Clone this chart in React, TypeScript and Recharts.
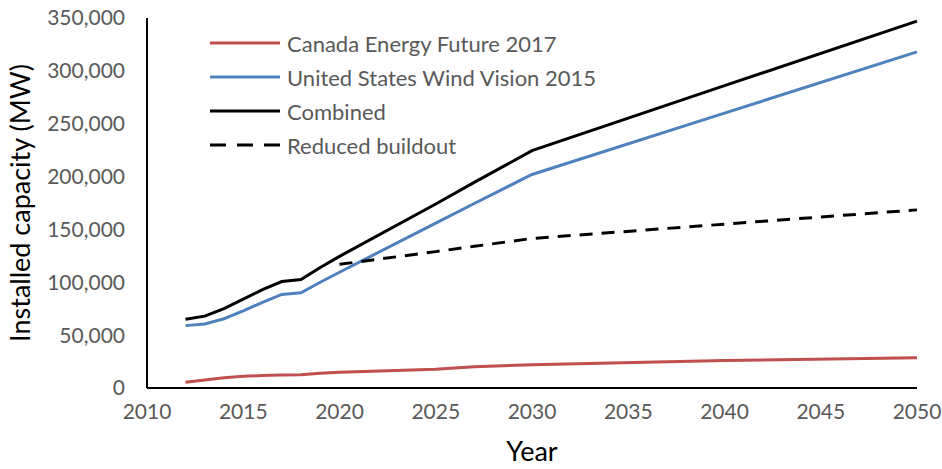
import { LineChart, Line, XAxis, YAxis, Legend } from "recharts";

// values (MW)
const years = [2012, 2013, 2014, 2015, 2016, 2017, 2018, 2019, 2020, 2025, 2027, 2030, 2040, 2050];
const canada = [5400, 7500, 9800, 11000, 11800, 12200, 12600, 14000, 15000, 17800, 20200, 22000, 26000, 28700];
const unitedStates = [59000, 60500, 65500, 73000, 81000, 88500, 90000, 100000, 109500, 156000, 174500, 202000, 260000, 318000];
const combined = [65000, 68000, 75000, 84000, 93000, 100700, 102600, 114000, 124500, 174000, 194500, 224500, 286000, 347000];
const reduced = [null, null, null, null, null, null, null, null, 117000, 129000, 134000, 141500, 155000, 168500];

const seriesNames = [
  "Canada Energy Future 2017",
  "United States Wind Vision 2015",
  "Combined",
  "Reduced buildout",
];

const xTicks = [2010, 2015, 2020, 2025, 2030, 2035, 2040, 2045, 2050];
const yTicks = [0, 50000, 100000, 150000, 200000, 250000, 300000, 350000];

const data = years.map((year, i) => ({
  year,
  canada: canada[i],
  us: unitedStates[i],
  combined: combined[i],
  reduced: reduced[i],
}));

const FONT = "Lato, 'Open Sans', sans-serif";
const GREY = "#595959";

const LegendBox = ({ payload }: any) => {
  const items = seriesNames
    .map((n) => (payload || []).find((p: any) => p.value === n))
    .filter(Boolean);
  return (
    <div style={{ fontFamily: FONT, fontSize: 22, color: GREY }}>
      {items.map((p: any) => (
        <div key={p.value} style={{ display: "flex", alignItems: "center", height: 34 }}>
          <svg width={77} height={8} style={{ display: "block" }}>
            <line
              x1={0}
              x2={70}
              y1={4}
              y2={4}
              stroke={p.color}
              strokeWidth={3}
              strokeDasharray={p.value === "Reduced buildout" ? "16 11" : undefined}
            />
          </svg>
          <span style={{ whiteSpace: "nowrap" }}>{p.value}</span>
        </div>
      ))}
    </div>
  );
};

const App = () => {
  return (
    <div style={{ position: "absolute", left: 0, top: 0, background: "#fff" }}>
      <LineChart
        width={942}
        height={469}
        data={data}
        margin={{ top: 18, right: 25, left: 0, bottom: 0 }}
      >
        <XAxis
          dataKey="year"
          type="number"
          domain={[2010, 2050]}
          ticks={xTicks}
          tickLine={false}
          tickSize={0}
          tickMargin={16}
          height={81}
          axisLine={{ stroke: "#000", strokeWidth: 2 }}
          tick={{ fill: GREY, fontSize: 21, fontFamily: FONT }}
          label={{
            value: "Year",
            position: "insideBottom",
            offset: 8,
            fill: "#000",
            fontSize: 27,
            fontFamily: FONT,
          }}
        />
        <YAxis
          type="number"
          domain={[0, 350000]}
          ticks={yTicks}
          width={147}
          tickLine={false}
          tickSize={0}
          tickMargin={22}
          axisLine={{ stroke: "#000", strokeWidth: 2 }}
          tick={{ fill: GREY, fontSize: 21, fontFamily: FONT }}
          tickFormatter={(v: number) => v.toLocaleString("en-US")}
          label={{
            value: "Installed capacity (MW)",
            angle: -90,
            position: "insideLeft",
            offset: 20,
            fill: "#000",
            fontSize: 27,
            fontFamily: FONT,
            style: { textAnchor: "middle" },
          }}
        />
        <Legend
          layout="vertical"
          align="center"
          verticalAlign="middle"
          content={<LegendBox />}
          wrapperStyle={{ position: "absolute", left: 210, top: 26, width: "auto" }}
        />
        <Line
          dataKey="canada"
          name="Canada Energy Future 2017"
          stroke="#C0504D"
          strokeWidth={3}
          dot={false}
          isAnimationActive={false}
        />
        <Line
          dataKey="us"
          name="United States Wind Vision 2015"
          stroke="#4F81BD"
          strokeWidth={3}
          dot={false}
          isAnimationActive={false}
        />
        <Line
          dataKey="combined"
          name="Combined"
          stroke="#000"
          strokeWidth={3}
          dot={false}
          isAnimationActive={false}
        />
        <Line
          dataKey="reduced"
          name="Reduced buildout"
          stroke="#000"
          strokeWidth={3}
          strokeDasharray="13 9"
          dot={false}
          connectNulls={false}
          isAnimationActive={false}
        />
      </LineChart>
    </div>
  );
};

export default App;
